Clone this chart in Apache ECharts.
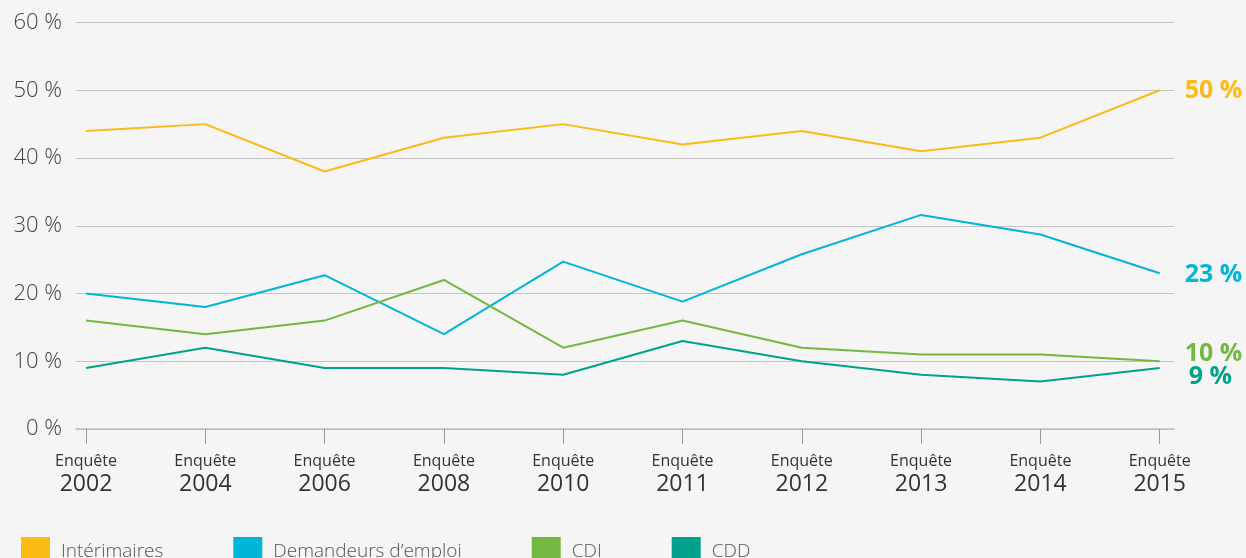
<!DOCTYPE html>
<html>
<head>
<meta charset="utf-8">
<script src="https://cdn.jsdelivr.net/npm/echarts@6/dist/echarts.min.js"></script>
<style>
  html, body { margin: 0; padding: 0; background: #f5f5f5; }
  #chart { width: 1246px; height: 558px; }
</style>
</head>
<body>
<div id="chart"></div>
<script>
// Survey editions (x axis)
const years = ['2002', '2004', '2006', '2008', '2010', '2011', '2012', '2013', '2014', '2015'];
const yTicks = [0, 10, 20, 30, 40, 50, 60];

// Shares per population, in %
const interimaires = [44, 45, 38, 43, 45, 42, 44, 41, 43, 50];
const demandeurs   = [20, 18, 22.7, 14, 24.7, 18.8, 25.8, 31.6, 28.7, 23];
const cdi          = [16, 14, 16, 22, 12, 16, 12, 11, 11, 10];
const cdd          = [9, 12, 9, 9, 8, 13, 10, 8, 7, 9];

const seriesDefs = [
  { name: 'Intérimaires',             data: interimaires, color: '#fbba16', offset: [0, 1] },
  { name: 'Demandeurs d\u2019emploi', data: demandeurs,   color: '#00b5d8', offset: [0, 2] },
  { name: 'CDI',                      data: cdi,          color: '#74b842', offset: [0, -7] },
  { name: 'CDD',                      data: cdd,          color: '#00a28b', offset: [4, 9] }
];

const FONT = '"Open Sans", Roboto, sans-serif';
const idx = years.map((_, i) => i);

const chart = echarts.init(document.getElementById('chart'), null, { renderer: 'canvas' });

chart.setOption({
  backgroundColor: '#f5f5f5',
  animation: false,
  textStyle: { fontFamily: FONT },
  grid: { left: 76, right: 72, top: 22.5, bottom: 129 },
  xAxis: {
    type: 'value',
    min: -0.084,
    max: 9.12,
    axisLine: { show: true, lineStyle: { color: '#bdbdbd', width: 1.5 } },
    axisTick: { show: true, customValues: idx, length: 15, lineStyle: { color: '#9a9a9a', width: 1 } },
    splitLine: { show: false },
    axisLabel: {
      customValues: idx,
      margin: 23,
      formatter: v => '{a|Enquête}\n{b|' + years[Math.round(v)] + '}',
      rich: {
        a: { fontFamily: FONT, fontSize: 16, fontWeight: 400, color: '#333', lineHeight: 19, align: 'center' },
        b: { fontFamily: FONT, fontSize: 23, fontWeight: 400, color: '#333', lineHeight: 26, align: 'center' }
      }
    }
  },
  yAxis: {
    type: 'value',
    min: yTicks[0],
    max: yTicks[yTicks.length - 1],
    interval: 10,
    axisLine: { show: false },
    axisTick: { show: false },
    splitLine: { show: true, lineStyle: { color: '#c4c4c4', width: 1.2 } },
    axisLabel: {
      margin: 14,
      fontFamily: FONT,
      fontSize: 22,
      fontWeight: 300,
      color: '#444',
      formatter: v => v + ' %'
    }
  },
  legend: {
    left: 16,
    top: 532,
    icon: 'rect',
    itemWidth: 29,
    itemHeight: 29,
    itemGap: 70,
    textStyle: { fontFamily: FONT, fontSize: 19, fontWeight: 300, color: '#555', padding: [0, 0, 0, 6] },
    data: seriesDefs.map(s => ({ name: s.name, itemStyle: { color: s.color } }))
  },
  series: seriesDefs.map(s => ({
    name: s.name,
    type: 'line',
    data: s.data.map((v, i) => [i, v]),
    showSymbol: false,
    symbol: 'none',
    color: s.color,
    lineStyle: { color: s.color, width: 2 },
    endLabel: {
      show: true,
      distance: 25,
      offset: s.offset,
      fontFamily: FONT,
      fontSize: 25,
      fontWeight: 'bold',
      color: s.color,
      formatter: p => p.value[1] + ' %'
    }
  }))
});
</script>
</body>
</html>
